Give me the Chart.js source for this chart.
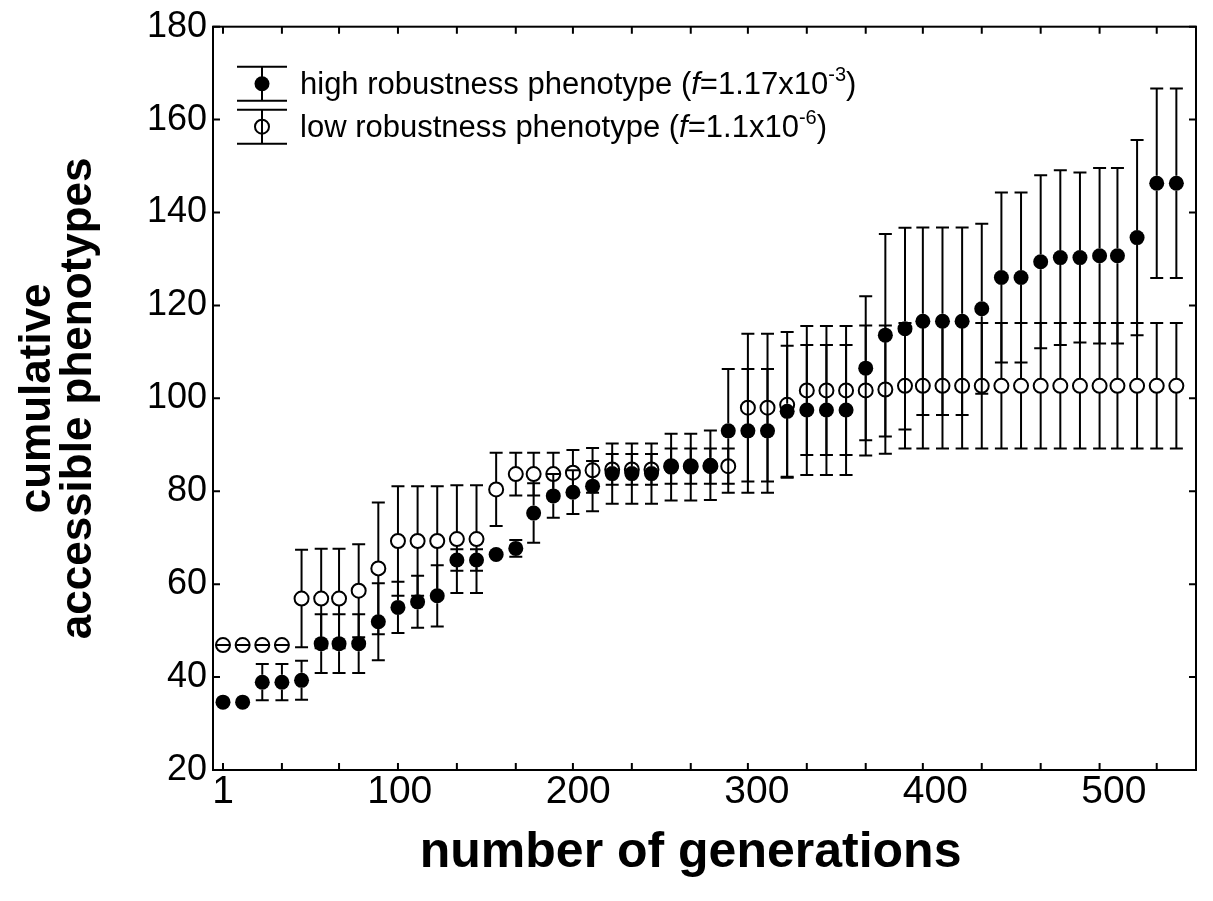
<!DOCTYPE html>
<html><head><meta charset="utf-8">
<script src="https://cdn.jsdelivr.net/npm/chart.js@4/dist/chart.umd.min.js"></script>
<style>html,body{margin:0;padding:0;background:#fff;}#wrap{width:1213px;height:901px;}</style>
</head><body><div id="wrap"><canvas id="c" width="1213" height="901"></canvas></div>
<script>
// ---- data ----
const generations = [1,12,23,34,45,56,66,77,88,99,110,121,132,143,154,165,175,186,197,208,219,230,241,252,263,274,284,295,306,317,328,339,350,361,372,383,393,404,415,426,437,448,459,470,481,492,502,513,524,535];
const highMean = [34.6,34.6,38.9,38.9,39.3,47.2,47.2,47.2,51.9,55.0,56.2,57.5,65.2,65.2,66.4,67.7,75.3,79.0,79.8,81.1,83.8,83.8,83.8,85.2,85.2,85.6,93.0,93.0,93.0,97.2,97.5,97.5,97.5,106.5,113.6,115.0,116.6,116.6,116.6,119.3,126.0,126.0,129.4,130.3,130.3,130.7,130.7,134.6,146.3,146.3];
const highErr  = [0,0,3.9,3.9,4.2,6.3,6.3,6.3,8.3,5.5,5.6,6.6,2.3,2.3,0,1.8,6.4,4.7,4.7,5.4,6.5,6.5,6.5,7.2,7.2,7.5,13.3,13.3,13.3,14.1,14.0,14.0,14.0,15.5,21.8,21.7,20.2,20.2,20.2,18.3,18.3,18.3,18.6,18.8,18.3,18.9,18.9,21.0,20.4,20.4];
const lowMean  = [46.9,46.9,46.9,46.9,56.9,56.9,56.9,58.6,63.4,69.3,69.3,69.3,69.7,69.7,80.4,83.7,83.7,83.7,84.0,84.5,84.7,84.7,84.7,85.4,85.4,85.4,85.4,98.0,98.0,98.6,101.7,101.7,101.7,101.7,101.9,102.7,102.7,102.7,102.7,102.7,102.7,102.7,102.7,102.7,102.7,102.7,102.7,102.7,102.7,102.7];
const lowErr   = [0,0,0,0,10.5,10.7,10.7,10.0,14.2,11.8,11.8,11.8,11.6,11.6,7.9,4.6,4.6,4.6,4.9,4.8,3.3,3.3,3.3,3.8,3.8,3.8,3.8,15.9,15.9,15.7,13.9,13.9,13.9,14.0,13.8,13.5,13.5,13.5,13.5,13.5,13.5,13.5,13.5,13.5,13.5,13.5,13.5,13.5,13.5,13.5];
const xTickLabels = [1,100,200,300,400,500];
const yTickValues = [20,40,60,80,100,120,140,160,180];
const seriesNames = ['high robustness phenotype', 'low robustness phenotype'];
const seriesF = [{mant:'1.17x10', exp:'-3'}, {mant:'1.1x10', exp:'-6'}];

const FONT = "'Liberation Sans', Arial, Helvetica, sans-serif";
Chart.defaults.font.family = FONT;
Chart.defaults.color = '#000';

const R_FILLED = 7.5, R_OPEN = 7, CAP = 6.5;

function drawErrBars(ctx, xs, ys, means, errs, r) {
  ctx.save();
  ctx.strokeStyle = '#000';
  ctx.lineWidth = 2;
  for (let i = 0; i < means.length; i++) {
    const x = xs.getPixelForValue(generations[i]);
    const c = ys.getPixelForValue(means[i]);
    const t = ys.getPixelForValue(means[i] + errs[i]);
    const b = ys.getPixelForValue(means[i] - errs[i]);
    ctx.beginPath();
    if (t < c - r) { ctx.moveTo(x, c - r); ctx.lineTo(x, t); }
    if (b > c + r) { ctx.moveTo(x, c + r); ctx.lineTo(x, b); }
    ctx.moveTo(x - CAP, t); ctx.lineTo(x + CAP, t);
    ctx.moveTo(x - CAP, b); ctx.lineTo(x + CAP, b);
    ctx.stroke();
  }
  ctx.restore();
}

const decor = {
  id: 'decor',
  beforeDatasetsDraw(chart) {
    const ctx = chart.ctx, xs = chart.scales.x, ys = chart.scales.y;
    ctx.save();
    ctx.beginPath();
    const a = chart.chartArea;
    ctx.rect(a.left, a.top, a.right - a.left, a.bottom - a.top);
    ctx.clip();
    drawErrBars(ctx, xs, ys, lowMean, lowErr, R_OPEN);
    drawErrBars(ctx, xs, ys, highMean, highErr, R_FILLED);
    ctx.restore();
  },
  afterDraw(chart) {
    const ctx = chart.ctx, xs = chart.scales.x, ys = chart.scales.y, a = chart.chartArea;
    ctx.save();
    ctx.strokeStyle = '#000';
    ctx.lineWidth = 2;
    ctx.strokeRect(a.left, a.top, a.right - a.left, a.bottom - a.top);
    const TL = 7;
    ctx.beginPath();
    for (let i = 0; i < generations.length; i += 3) {
      const x = xs.getPixelForValue(generations[i]);
      ctx.moveTo(x, a.bottom); ctx.lineTo(x, a.bottom - TL);
      ctx.moveTo(x, a.top); ctx.lineTo(x, a.top + TL);
    }
    for (const v of yTickValues) {
      const y = ys.getPixelForValue(v);
      ctx.moveTo(a.left, y); ctx.lineTo(a.left + TL, y);
      ctx.moveTo(a.right, y); ctx.lineTo(a.right - TL, y);
    }
    ctx.stroke();

    // legend
    const symX = a.left + 49, textX = a.left + 87;
    const rows = [a.top + 57, a.top + 100];
    const capHalf = 25, half = 17;
    rows.forEach((cy, k) => {
      ctx.beginPath();
      ctx.moveTo(symX, cy - half); ctx.lineTo(symX, cy + half);
      ctx.moveTo(symX - capHalf, cy - half); ctx.lineTo(symX + capHalf, cy - half);
      ctx.moveTo(symX - capHalf, cy + half); ctx.lineTo(symX + capHalf, cy + half);
      ctx.stroke();
      ctx.beginPath();
      if (k === 0) {
        ctx.arc(symX, cy, R_FILLED, 0, Math.PI * 2);
        ctx.fillStyle = '#000'; ctx.fill();
      } else {
        ctx.arc(symX, cy, R_OPEN, 0, Math.PI * 2);
        ctx.stroke();
      }
      const fs = 31;
      let x = textX;
      ctx.fillStyle = '#000';
      ctx.textBaseline = 'alphabetic';
      const base = cy + fs * 0.33;
      const part = (txt, font, dy) => { ctx.font = font; ctx.fillText(txt, x, base + (dy||0)); x += ctx.measureText(txt).width; };
      part(seriesNames[k] + ' (', fs + 'px ' + FONT);
      part('f', 'italic ' + fs + 'px ' + FONT);
      part('=' + seriesF[k].mant, fs + 'px ' + FONT);
      part(seriesF[k].exp, Math.round(fs * 0.66) + 'px ' + FONT, -fs * 0.42);
      part(')', fs + 'px ' + FONT);
    });
    ctx.restore();
  }
};

new Chart(document.getElementById('c'), {
  type: 'scatter',
  data: {
    datasets: [
      { label: seriesNames[0], data: generations.map((g, i) => ({x: g, y: highMean[i]})),
        pointRadius: R_FILLED, pointHoverRadius: R_FILLED, backgroundColor: '#000', borderColor: '#000', borderWidth: 0, order: 0 },
      { label: seriesNames[1], data: generations.map((g, i) => ({x: g, y: lowMean[i]})),
        pointRadius: R_OPEN, pointHoverRadius: R_OPEN, backgroundColor: 'rgba(0,0,0,0)', borderColor: '#000', borderWidth: 2, order: 1 }
    ]
  },
  options: {
    responsive: false, animation: false, devicePixelRatio: 1,
    layout: { padding: { top: 26, right: 17, bottom: 0, left: 0 } },
    plugins: { legend: { display: false }, tooltip: { enabled: false } },
    events: [],
    scales: {
      x: {
        type: 'linear', min: -4.6, max: 546,
        afterBuildTicks: s => { s.ticks = xTickLabels.map(v => ({value: v})); },
        afterFit: s => { s.height = 131; },
        grid: { display: false, drawTicks: false },
        border: { display: false },
        ticks: { font: { size: 39, lineHeight: 1.15 }, color: '#000', padding: 0, maxRotation: 0, autoSkip: false },
        title: { display: true, text: 'number of generations  ', font: { size: 50, weight: 'bold', lineHeight: 1.15 }, color: '#000', padding: { top: 0, bottom: 19 } }
      },
      y: {
        type: 'linear', min: 20, max: 180,
        afterBuildTicks: s => { s.ticks = yTickValues.map(v => ({value: v})); },
        afterFit: s => { s.width = 213; },
        grid: { display: false, drawTicks: false },
        border: { display: false },
        ticks: { font: { size: 36, lineHeight: 1.15 }, color: '#000', padding: 6, autoSkip: false },
        title: { display: true, text: ['cumulative', 'accessible phenotypes'], font: { size: 44, weight: 'bold', lineHeight: 0.92 }, color: '#000', padding: { top: 18, bottom: 0 } }
      }
    }
  },
  plugins: [decor]
});
</script></body></html>
